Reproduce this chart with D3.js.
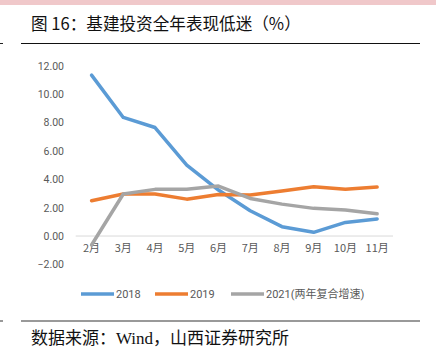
<!DOCTYPE html>
<html>
<head>
<meta charset="utf-8">
<script src="https://cdn.jsdelivr.net/npm/d3@7"></script>
<style>
  html, body { margin: 0; padding: 0; background: #fff; }
  svg { display: block; }
</style>
</head>
<body>
<svg id="chart" width="436" height="350"></svg>
<script>
// Months on the category axis
const months = ["2月", "3月", "4月", "5月", "6月", "7月", "8月", "9月", "10月", "11月"];
// Cumulative year-on-year growth of infrastructure investment (%)
const values2018 = [11.34, 8.36, 7.65, 5.0, 3.24, 1.78, 0.66, 0.26, 0.96, 1.2];
const values2019 = [2.49, 2.96, 2.96, 2.6, 2.93, 2.89, 3.17, 3.47, 3.29, 3.45];
const values2021 = [-0.63, 2.96, 3.29, 3.29, 3.52, 2.65, 2.25, 1.95, 1.83, 1.57];
const seriesNames = ["2018", "2019", "2021(两年复合增速)"];
const seriesColors = ["#5B9BD5", "#ED7D31", "#A5A5A5"];
const yTicks = [-2, 0, 2, 4, 6, 8, 10, 12];

const titleText = "图 16：基建投资全年表现低迷（%）";
const sourceText = "数据来源：Wind，山西证券研究所";

const svg = d3.select("#chart");

// Header band and rules
svg.append("rect").attr("x", 0).attr("y", 0).attr("width", 436).attr("height", 5).attr("fill", "#F0C8CA");
svg.append("line").attr("x1", 0).attr("x2", 3).attr("y1", 43.5).attr("y2", 43.5).attr("stroke", "#222");
svg.append("line").attr("x1", 21).attr("x2", 420).attr("y1", 43.5).attr("y2", 43.5).attr("stroke", "#111").attr("stroke-width", 1.2);
svg.append("text").attr("x", 31).attr("y", 30)
  .attr("font-family", "'Noto Sans CJK SC', sans-serif").attr("font-size", 16.6).attr("fill", "#111")
  .text(titleText);

// Footer rule and source
svg.append("line").attr("x1", 0).attr("x2", 3).attr("y1", 321).attr("y2", 321).attr("stroke", "#999").attr("stroke-width", 2);
svg.append("line").attr("x1", 21).attr("x2", 420).attr("y1", 321).attr("y2", 321).attr("stroke", "#999").attr("stroke-width", 2);
svg.append("text").attr("x", 31).attr("y", 344)
  .attr("font-family", "'Liberation Serif', 'Noto Sans CJK SC', serif").attr("font-size", 17).attr("fill", "#111")
  .text(sourceText);

// Plot scales
const x = d3.scaleBand().domain(months).range([75.7, 393]);
const y = d3.scaleLinear().domain([-2, 12]).range([264.4, 65.8]);
const cx = m => x(m) + x.bandwidth() / 2;

// Y-axis labels
const yAxis = d3.axisLeft(y).tickValues(yTicks).tickFormat(d3.format(".2f")).tickSize(0).tickPadding(0);
const yg = svg.append("g").attr("transform", "translate(64,0)").call(yAxis);
yg.select(".domain").remove();
yg.selectAll("text").attr("font-family", "Roboto, 'Noto Sans', sans-serif").attr("font-size", 10.5).attr("fill", "#595959");

// Zero baseline with month labels below
svg.append("line").attr("x1", x.range()[0]).attr("x2", x.range()[1]).attr("y1", y(0)).attr("y2", y(0))
  .attr("stroke", "#D9D9D9").attr("stroke-width", 1);
const xAxis = d3.axisBottom(x).tickSize(0).tickPadding(0);
const xg = svg.append("g").attr("transform", `translate(0,${y(0) + 8})`).call(xAxis);
xg.select(".domain").remove();
xg.selectAll("text").attr("font-family", "'Noto Sans CJK SC', sans-serif").attr("font-size", 11).attr("fill", "#595959");

// Lines
const allSeries = [values2018, values2019, values2021];
const line = d3.line().x((d, i) => cx(months[i])).y(d => y(d));
allSeries.forEach((vals, k) => {
  svg.append("path").datum(vals).attr("d", line)
    .attr("fill", "none").attr("stroke", seriesColors[k]).attr("stroke-width", 3.5)
    .attr("stroke-linejoin", "round").attr("stroke-linecap", "round");
});

// Legend
const legendX = [81, 155, 231];
seriesNames.forEach((name, k) => {
  const g = svg.append("g").attr("transform", `translate(${legendX[k]},294)`);
  g.append("line").attr("x1", 0).attr("x2", 33).attr("y1", 0).attr("y2", 0)
    .attr("stroke", seriesColors[k]).attr("stroke-width", 3.5);
  g.append("text").attr("x", 35).attr("y", 4)
    .attr("font-family", "Roboto, 'Noto Sans CJK SC', sans-serif").attr("font-size", 11).attr("fill", "#595959")
    .text(name);
});
</script>
</body>
</html>
